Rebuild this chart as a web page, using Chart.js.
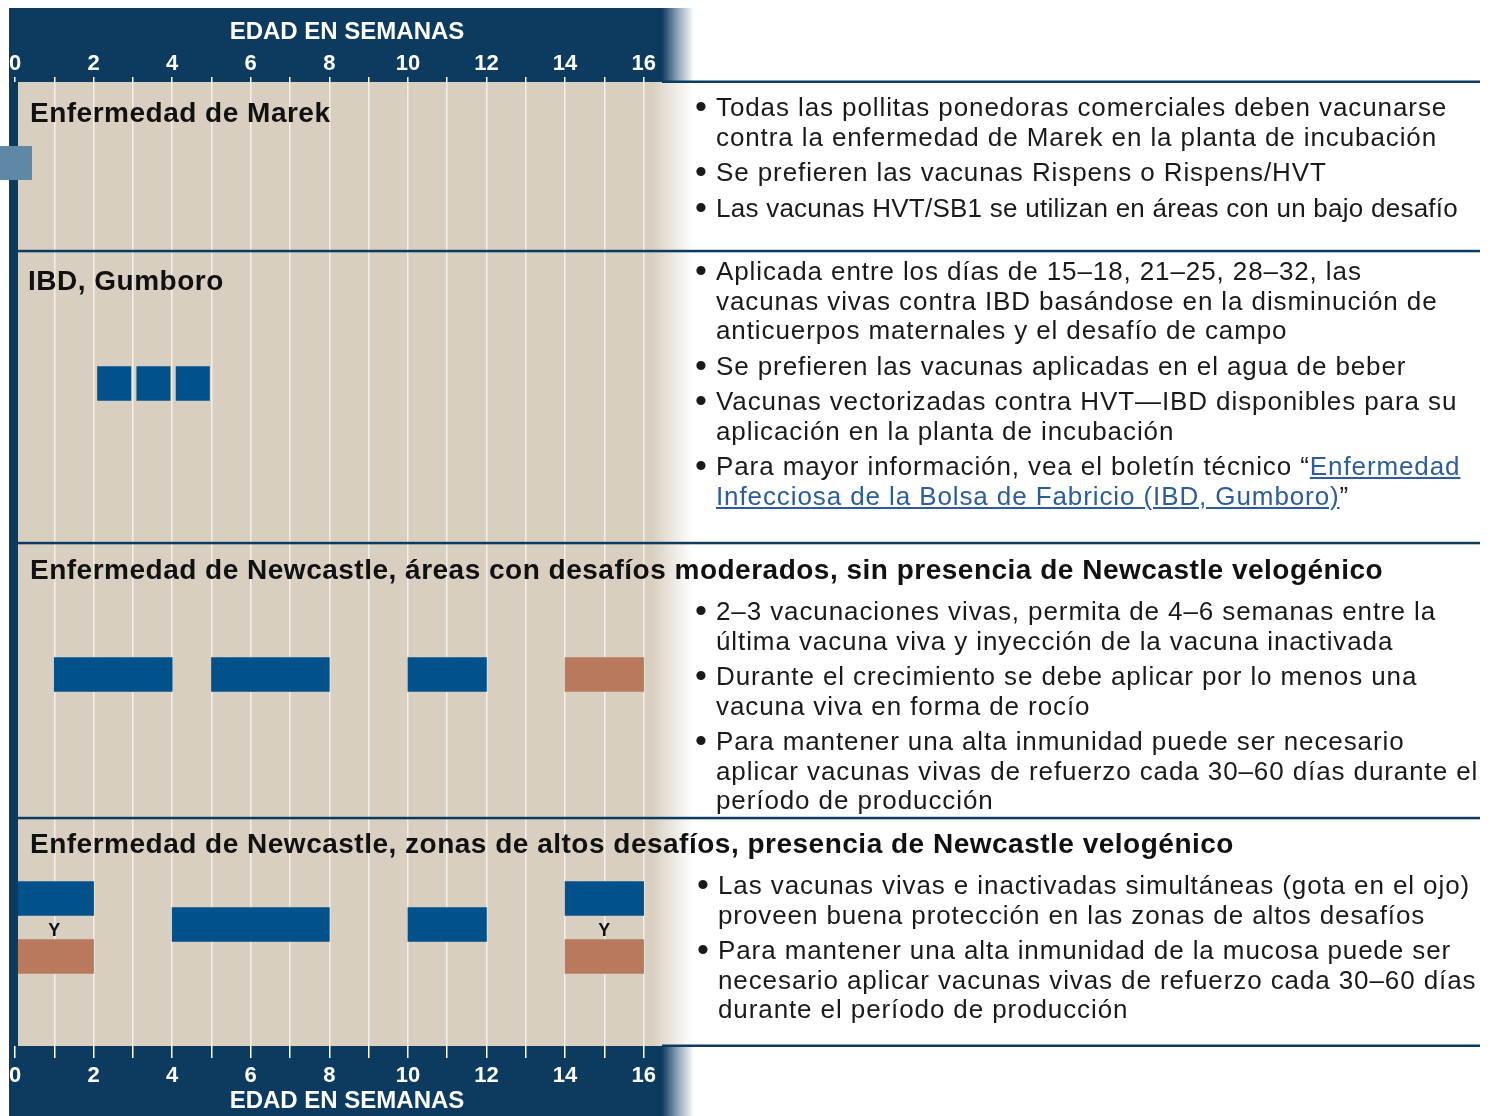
<!DOCTYPE html>
<html lang="es">
<head>
<meta charset="utf-8">
<title>Programa de vacunación</title>
<script src="https://cdn.jsdelivr.net/npm/chart.js@4.4.0/dist/chart.umd.min.js"></script>
<style>
  body { margin: 0; background: #fff; }
  #wrap { position: relative; width: 1495px; height: 1116px; overflow: hidden; }
  #chart { position: absolute; left: 0; top: 0; }
  .title {
    position: absolute; white-space: nowrap;
    font: bold 28px "Liberation Sans", Arial, sans-serif;
    line-height: 32px; color: #111; letter-spacing: 0.5px;
  }
  .notes {
    position: absolute; white-space: nowrap;
    font: 26px "Liberation Sans", Arial, sans-serif;
    line-height: 29.5px; color: #1a1a1a; letter-spacing: 0.9px;
  }
  .notes p { margin: 0 0 6px 0; padding-left: 17px; position: relative; }
  .notes p::before { content: "\2022"; position: absolute; left: -4px; top: -1px; font-size: 34px; }
  .notes a { color: #2b5c9e; text-decoration: underline; }
</style>
</head>
<body>
<div id="wrap">
  <canvas id="chart" width="1495" height="1116"></canvas>

  <div class="title" style="left:30px; top:97px">Enfermedad de Marek</div>
  <div class="notes" style="left:699px; top:93px">
    <p>Todas las pollitas ponedoras comerciales deben vacunarse<br>contra la enfermedad de Marek en la planta de incubación</p>
    <p>Se prefieren las vacunas Rispens o Rispens/HVT</p>
    <p style="letter-spacing:0.25px">Las vacunas HVT/SB1 se utilizan en áreas con un bajo desafío</p>
  </div>

  <div class="title" style="left:28px; top:265px">IBD, Gumboro</div>
  <div class="notes" style="left:699px; top:257px">
    <p>Aplicada entre los días de 15–18, 21–25, 28–32, las<br>vacunas vivas contra IBD basándose en la disminución de<br>anticuerpos maternales y el desafío de campo</p>
    <p>Se prefieren las vacunas aplicadas en el agua de beber</p>
    <p>Vacunas vectorizadas contra HVT—IBD disponibles para su<br>aplicación en la planta de incubación</p>
    <p>Para mayor información, vea el boletín técnico “<a>Enfermedad<br>Infecciosa de la Bolsa de Fabricio (IBD, Gumboro)</a>”</p>
  </div>

  <div class="title" style="left:30px; top:554px">Enfermedad de Newcastle, áreas con desafíos moderados, sin presencia de Newcastle velogénico</div>
  <div class="notes" style="left:699px; top:597px">
    <p>2–3 vacunaciones vivas, permita de 4–6 semanas entre la<br>última vacuna viva y inyección de la vacuna inactivada</p>
    <p>Durante el crecimiento se debe aplicar por lo menos una<br>vacuna viva en forma de rocío</p>
    <p>Para mantener una alta inmunidad puede ser necesario<br>aplicar vacunas vivas de refuerzo cada 30–60 días durante el<br>período de producción</p>
  </div>

  <div class="title" style="left:30px; top:828px">Enfermedad de Newcastle, zonas de altos desafíos, presencia de Newcastle velogénico</div>
  <div class="notes" style="left:701px; top:871px">
    <p>Las vacunas vivas e inactivadas simultáneas (gota en el ojo)<br>proveen buena protección en las zonas de altos desafíos</p>
    <p>Para mantener una alta inmunidad de la mucosa puede ser<br>necesario aplicar vacunas vivas de refuerzo cada 30–60 días<br>durante el período de producción</p>
  </div>
</div>

<script>
// weeks of age shown on both axes
const tickWeeks = [0, 2, 4, 6, 8, 10, 12, 14, 16];
const axisTitle = 'EDAD EN SEMANAS';

// live vaccines (blue): lane, start week, end week
const liveLane  = ['ibd', 'ibd', 'ibd', 'ndMod', 'ndMod', 'ndMod', 'ndHighTop', 'ndHighMid', 'ndHighMid', 'ndHighTop'];
const liveStart = [2.1, 3.1, 4.1, 1, 5, 10, 0, 4, 10, 14];
const liveEnd   = [2.95, 3.95, 4.95, 4, 8, 12, 2, 8, 12, 16];

// inactivated vaccines (brown)
const killedLane  = ['ndMod', 'ndHighLow', 'ndHighLow'];
const killedStart = [14, 0, 14];
const killedEnd   = [16, 2, 16];

// "Y" = live and inactivated given together
const andWeeks = [1, 15];

// layout: lane centres inside the panel (panel units, 0 = top of panel)
const laneY = { ibd: 301.5, ndMod: 592.5, ndHighTop: 816.5, ndHighMid: 842.5, ndHighAnd: 849, ndHighLow: 874.5 };
const rowEdges = [169, 461, 736];

const NAVY = '#0d3a5f';
const BEIGE = '#d9cfc1';
const BLUE = '#01518a';
const BROWN = '#b8795d';

const toPoints = (lanes, starts, ends) =>
  lanes.map((l, i) => ({ x: [starts[i], ends[i]], y: laneY[l] }));

const backdrop = {
  id: 'backdrop',
  beforeDraw(chart) {
    const { ctx, chartArea: a } = chart;
    ctx.save();
    ctx.fillStyle = '#fff';
    ctx.fillRect(0, 0, chart.width, chart.height);

    let g = ctx.createLinearGradient(652, 0, 693, 0);
    g.addColorStop(0, BEIGE);
    g.addColorStop(1, '#ffffff');
    ctx.fillStyle = g;
    ctx.fillRect(18, a.top, 693 - 18, a.bottom - a.top);

    g = ctx.createLinearGradient(662, 0, 694, 0);
    g.addColorStop(0, NAVY);
    g.addColorStop(0.5, 'rgba(13,58,95,0.45)');
    g.addColorStop(1, 'rgba(13,58,95,0)');
    ctx.fillStyle = g;
    ctx.fillRect(9, 8, 694 - 9, a.top - 8);
    ctx.fillRect(9, a.bottom, 694 - 9, chart.height - a.bottom);
    ctx.restore();
  },
  afterDatasetsDraw(chart) {
    const { ctx, chartArea: a, scales } = chart;
    ctx.save();
    // left frame strip and tab
    ctx.fillStyle = NAVY;
    ctx.fillRect(9, a.top, 9, a.bottom - a.top);
    ctx.fillStyle = '#5f88a7';
    ctx.fillRect(0, 146, 32, 34);

    // row separators
    ctx.fillStyle = NAVY;
    ctx.fillRect(662, a.top - 1.5, 1480 - 662, 2.5);
    ctx.fillRect(662, a.bottom - 1.5, 1480 - 662, 2.5);
    rowEdges.forEach(v => {
      const y = scales.y.getPixelForValue(v);
      ctx.fillRect(18, y - 1.2, 1480 - 18, 2.5);
    });

    // "Y" marks
    ctx.fillStyle = '#111';
    ctx.font = 'bold 18px "Liberation Sans", Arial, sans-serif';
    ctx.textAlign = 'center';
    ctx.textBaseline = 'middle';
    andWeeks.forEach(w => {
      ctx.fillText('Y', scales.x.getPixelForValue(w), scales.y.getPixelForValue(laneY.ndHighAnd));
    });
    ctx.restore();
  }
};

const weekAxis = (position, height, tickLen, labelPad, titlePad, onArea) => ({
  type: 'linear',
  position,
  min: 0,
  max: 16.9,
  afterBuildTicks: s => {
    s.ticks = Array.from({ length: 17 }, (_, i) => ({ value: i }));
  },
  afterFit: s => { s.height = height; },
  border: { display: false },
  grid: {
    drawOnChartArea: onArea,
    color: '#f3efe9',
    lineWidth: 1.5,
    tickColor: '#ffffff',
    tickWidth: 1.5,
    tickLength: tickLen,
  },
  ticks: {
    autoSkip: false,
    maxRotation: 0,
    padding: labelPad,
    color: '#ffffff',
    font: { family: '"Liberation Sans", Arial, sans-serif', size: 22, weight: 'bold' },
    callback: v => (tickWeeks.includes(v) ? String(v) : ''),
  },
  title: {
    display: true,
    text: axisTitle,
    color: '#ffffff',
    padding: titlePad,
    font: { family: '"Liberation Sans", Arial, sans-serif', size: 24, weight: 'bold' },
  },
});

new Chart(document.getElementById('chart'), {
  type: 'bar',
  plugins: [backdrop],
  data: {
    datasets: [
      {
        label: 'Vacuna viva',
        data: toPoints(liveLane, liveStart, liveEnd),
        backgroundColor: BLUE,
        barThickness: 34,
        grouped: false,
        borderSkipped: false,
      },
      {
        label: 'Vacuna inactivada',
        data: toPoints(killedLane, killedStart, killedEnd),
        backgroundColor: BROWN,
        barThickness: 34,
        grouped: false,
        borderSkipped: false,
      },
    ],
  },
  options: {
    indexAxis: 'y',
    responsive: false,
    animation: false,
    layout: { padding: { left: 15, right: 1495 - 15 - 16.9 * 39.29, top: 8, bottom: 0 } },
    plugins: {
      legend: { display: false },
      tooltip: { enabled: false },
    },
    scales: {
      x: weekAxis('top', 74, 5, 0, { top: 10, bottom: 0 }, true),
      x2: weekAxis('bottom', 70, 12, 5, { top: 0, bottom: 0 }, false),
      y: {
        type: 'linear',
        display: false,
        offset: false,
        min: 0,
        max: 964,
        reverse: true,
      },
    },
  },
});
</script>
</body>
</html>
